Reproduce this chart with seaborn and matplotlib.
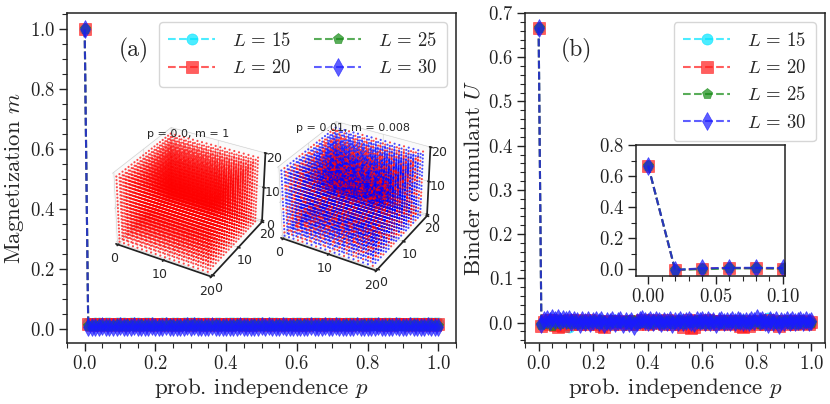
import numpy as np
import matplotlib
matplotlib.use("Agg")
import matplotlib.pyplot as plt
import seaborn as sns
from matplotlib.ticker import MultipleLocator, FormatStrFormatter

# probabilities of independence
p_values = np.linspace(0, 1, 101)
p_inset = [0.0, 0.02, 0.04, 0.06, 0.08, 0.10]

# magnetization m vs p
m_L15 = [1.0,
         0.021, 0.019, 0.020, 0.020, 0.019, 0.021, 0.020, 0.019, 0.020, 0.021,
         0.020, 0.019, 0.020, 0.021, 0.020, 0.019, 0.020, 0.020, 0.021, 0.019,
         0.019, 0.020, 0.021, 0.019, 0.020, 0.020, 0.019, 0.021, 0.020, 0.020,
         0.020, 0.021, 0.019, 0.020, 0.020, 0.019, 0.021, 0.020, 0.019, 0.020,
         0.021, 0.020, 0.020, 0.019, 0.021, 0.020, 0.019, 0.020, 0.020, 0.021,
         0.019, 0.020, 0.021, 0.020, 0.019, 0.020, 0.021, 0.019, 0.020, 0.020,
         0.020, 0.019, 0.020, 0.021, 0.020, 0.020, 0.019, 0.020, 0.021, 0.019,
         0.021, 0.020, 0.019, 0.020, 0.020, 0.021, 0.020, 0.019, 0.020, 0.020,
         0.020, 0.021, 0.020, 0.019, 0.020, 0.021, 0.019, 0.020, 0.020, 0.019,
         0.019, 0.020, 0.020, 0.021, 0.019, 0.020, 0.020, 0.021, 0.020, 0.020]
m_L20 = [1.0,
         0.016, 0.015, 0.016, 0.017, 0.015, 0.016, 0.016, 0.015, 0.017, 0.016,
         0.015, 0.016, 0.017, 0.016, 0.015, 0.016, 0.016, 0.017, 0.015, 0.016,
         0.016, 0.017, 0.015, 0.016, 0.016, 0.015, 0.017, 0.016, 0.016, 0.015,
         0.017, 0.016, 0.016, 0.015, 0.016, 0.017, 0.015, 0.016, 0.016, 0.016,
         0.015, 0.016, 0.016, 0.017, 0.015, 0.016, 0.016, 0.015, 0.017, 0.016,
         0.016, 0.015, 0.017, 0.016, 0.016, 0.015, 0.016, 0.017, 0.016, 0.015,
         0.016, 0.016, 0.015, 0.017, 0.016, 0.016, 0.015, 0.016, 0.016, 0.017,
         0.015, 0.017, 0.016, 0.016, 0.015, 0.016, 0.017, 0.016, 0.015, 0.016,
         0.016, 0.016, 0.017, 0.015, 0.016, 0.016, 0.015, 0.017, 0.016, 0.016,
         0.017, 0.015, 0.016, 0.016, 0.017, 0.015, 0.016, 0.016, 0.015, 0.016]
m_L25 = [1.0,
         0.012, 0.011, 0.012, 0.013, 0.012, 0.011, 0.012, 0.012, 0.013, 0.011,
         0.012, 0.013, 0.011, 0.012, 0.012, 0.013, 0.011, 0.012, 0.012, 0.012,
         0.011, 0.012, 0.012, 0.013, 0.011, 0.012, 0.012, 0.011, 0.013, 0.012,
         0.013, 0.012, 0.011, 0.012, 0.012, 0.012, 0.013, 0.011, 0.012, 0.012,
         0.012, 0.011, 0.013, 0.012, 0.012, 0.011, 0.012, 0.013, 0.012, 0.011,
         0.012, 0.012, 0.012, 0.011, 0.013, 0.012, 0.011, 0.012, 0.012, 0.013,
         0.011, 0.013, 0.012, 0.012, 0.011, 0.012, 0.013, 0.012, 0.012, 0.011,
         0.012, 0.012, 0.011, 0.013, 0.012, 0.012, 0.011, 0.012, 0.013, 0.012,
         0.013, 0.011, 0.012, 0.012, 0.012, 0.013, 0.012, 0.011, 0.012, 0.012,
         0.012, 0.012, 0.013, 0.011, 0.012, 0.012, 0.012, 0.013, 0.011, 0.012]
m_L30 = [1.0,
         0.009, 0.008, 0.009, 0.009, 0.010, 0.008, 0.009, 0.009, 0.008, 0.010,
         0.009, 0.009, 0.008, 0.010, 0.009, 0.009, 0.008, 0.009, 0.010, 0.009,
         0.008, 0.009, 0.010, 0.009, 0.009, 0.008, 0.009, 0.009, 0.010, 0.008,
         0.010, 0.009, 0.009, 0.008, 0.009, 0.010, 0.009, 0.008, 0.009, 0.009,
         0.009, 0.008, 0.009, 0.010, 0.009, 0.009, 0.008, 0.009, 0.009, 0.010,
         0.009, 0.010, 0.008, 0.009, 0.009, 0.010, 0.009, 0.008, 0.009, 0.009,
         0.008, 0.009, 0.009, 0.010, 0.008, 0.009, 0.009, 0.010, 0.009, 0.008,
         0.010, 0.009, 0.008, 0.009, 0.009, 0.009, 0.010, 0.009, 0.008, 0.009,
         0.009, 0.009, 0.010, 0.008, 0.009, 0.009, 0.008, 0.010, 0.009, 0.009,
         0.008, 0.010, 0.009, 0.009, 0.008, 0.009, 0.010, 0.009, 0.009, 0.008]

# Binder cumulant U vs p
U_L15 = [0.667,
         -0.004, 0.003, 0.006, -0.002, 0.008, 0.004, -0.003, 0.005, 0.002, -0.001,
         -0.010, 0.004, 0.006, -0.003, 0.002, 0.005, -0.002, 0.003, 0.007, 0.001,
         -0.004, 0.002, 0.006, -0.002, 0.004, 0.001, -0.003, 0.005, 0.003, 0.000,
         0.002, -0.004, 0.003, 0.006, -0.002, 0.001, 0.004, -0.001, 0.005, 0.002,
         0.003, -0.002, 0.004, 0.001, 0.006, -0.003, 0.002, 0.004, -0.001, 0.003,
         0.001, 0.005, -0.002, 0.003, 0.000, 0.004, -0.004, 0.002, 0.006, -0.001,
         0.003, -0.003, 0.002, 0.005, 0.001, -0.002, 0.004, 0.000, -0.003, 0.002,
         0.004, 0.001, -0.002, 0.003, 0.006, -0.001, 0.002, -0.004, 0.003, 0.001,
         -0.002, 0.003, 0.005, 0.010, 0.002, -0.003, 0.004, 0.001, -0.001, 0.003,
         0.002, -0.002, 0.004, 0.001, -0.003, 0.003, 0.000, 0.002, -0.002, 0.001]
U_L20 = [0.667,
         -0.008, 0.002, 0.005, -0.003, 0.006, -0.006, -0.010, 0.004, -0.008, 0.003,
         0.005, -0.004, 0.002, 0.006, -0.002, 0.004, 0.001, -0.003, 0.005, 0.002,
         -0.004, 0.003, -0.008, -0.009, 0.002, 0.004, -0.002, 0.003, 0.001, -0.003,
         0.002, 0.004, -0.002, 0.001, 0.003, -0.004, 0.002, 0.005, 0.001, -0.002,
         0.003, 0.006, -0.001, 0.004, 0.002, -0.003, 0.005, 0.001, -0.002, 0.003,
         0.001, -0.004, -0.010, 0.002, 0.005, -0.012, -0.009, 0.003, -0.002, 0.004,
         0.002, 0.005, -0.003, 0.001, 0.004, -0.002, 0.003, 0.000, 0.004, -0.002,
         0.003, -0.001, 0.004, -0.008, -0.009, 0.002, -0.007, 0.004, 0.001, -0.003,
         0.004, 0.002, -0.003, 0.005, 0.001, -0.002, 0.003, -0.007, 0.002, 0.004,
         -0.002, 0.003, 0.001, -0.003, 0.004, 0.002, -0.001, 0.003, -0.002, 0.001]
U_L25 = [0.667,
         -0.006, -0.003, 0.002, 0.004, -0.007, 0.001, 0.003, -0.002, 0.004, 0.001,
         -0.003, 0.002, 0.004, -0.002, 0.001, 0.003, -0.004, 0.002, 0.000, 0.003,
         0.001, -0.002, 0.003, 0.001, -0.003, 0.002, 0.004, -0.001, 0.002, 0.000,
         0.002, 0.003, -0.002, 0.001, 0.004, -0.003, 0.002, 0.000, 0.003, 0.001,
         -0.002, 0.003, 0.001, 0.004, -0.002, 0.002, 0.000, 0.003, -0.003, 0.002,
         0.001, 0.004, -0.002, 0.002, 0.003, -0.001, 0.001, 0.004, -0.002, 0.002,
         0.003, -0.002, 0.001, 0.004, 0.000, 0.002, -0.003, 0.003, 0.001, -0.001,
         0.002, 0.004, -0.002, 0.001, 0.003, 0.000, -0.003, 0.002, 0.004, 0.001,
         -0.002, 0.003, 0.001, -0.001, 0.004, 0.002, -0.002, 0.003, 0.000, 0.002,
         0.003, -0.002, 0.002, 0.001, -0.003, 0.003, 0.001, -0.001, 0.002, 0.000]
U_L30 = [0.667,
         -0.004, 0.005, 0.008, 0.004, 0.011, 0.006, 0.010, 0.003, 0.009, 0.005,
         0.008, 0.002, 0.006, 0.004, -0.002, 0.007, 0.002, 0.005, -0.001, 0.004,
         0.006, 0.001, 0.005, -0.002, 0.004, 0.002, 0.006, -0.001, 0.003, 0.005,
         -0.002, 0.003, 0.000, 0.004, -0.008, 0.002, 0.006, 0.009, 0.004, 0.001,
         0.005, 0.002, 0.006, 0.003, -0.001, 0.004, 0.002, 0.005, -0.002, 0.004,
         0.002, 0.006, 0.001, 0.004, 0.007, 0.002, -0.001, 0.005, 0.003, 0.006,
         0.002, 0.005, 0.001, 0.004, -0.002, 0.003, 0.006, 0.002, 0.004, 0.001,
         0.005, 0.002, 0.006, 0.003, 0.001, 0.004, 0.002, 0.006, 0.003, 0.011,
         0.004, 0.007, 0.002, -0.003, 0.005, 0.001, 0.006, -0.006, 0.004, 0.002,
         0.005, 0.001, 0.006, 0.002, 0.004, 0.007, 0.002, 0.005, 0.001, 0.003]

# zoom of U near p = 0
U_in_L15 = [0.667, -0.006, 0.002, 0.006, 0.004, 0.005]
U_in_L20 = [0.667, -0.008, 0.003, 0.007, 0.004, 0.003]
U_in_L25 = [0.667, -0.004, -0.002, 0.004, 0.006, 0.002]
U_in_L30 = [0.667, -0.005, 0.004, 0.008, 0.008, 0.006]

# one 20x20 spin layer for the p = 0.01 snapshot (1 = up/red, 0 = down/blue)
spin_layer = [
    "00101100010011000100",
    "01100100001101001100",
    "00010011000100110001",
    "10001100100001100110",
    "11000101001000010010",
    "01001000110100001001",
    "00110010010011000100",
    "10010001100100100011",
    "01100100001001010001",
    "00011010010110001000",
    "10000101100000110100",
    "01101000010010001011",
    "00100110001001100010",
    "11010001000110010000",
    "00001100110001001101",
    "01100010001100100010",
    "10011000100010011000",
    "00100101010001000110",
    "01010010001100101001",
    "10001001100010010100",
]

series = [(r"$L\,=\,15$", "#00e5ff", "o", 8),
          (r"$L\,=\,20$", "#ff1a1a", "s", 8),
          (r"$L\,=\,25$", "#138a13", "p", 8),
          (r"$L\,=\,30$", "#1a1aff", "d", 9)]

sns.set_theme(style="ticks")
plt.rcParams["font.family"] = ["cmr10", "DejaVu Serif"]
plt.rcParams["mathtext.fontset"] = "cm"
plt.rcParams["axes.formatter.use_mathtext"] = True
plt.rcParams["axes.edgecolor"] = "#222222"


def draw_lines(ax, x, ys):
    for (lab, col, mk, ms), y in zip(series, ys):
        sns.lineplot(x=x, y=y, ax=ax, color=col, marker=mk, markersize=ms,
                     linestyle="--", linewidth=1.5, mec=col, mew=0.5,
                     alpha=0.7, label=lab)


def style_ax(ax, size=13.5):
    ax.tick_params(which="major", direction="out", length=6, width=1,
                   labelsize=size, colors="#222222", pad=2.5)
    ax.tick_params(which="minor", direction="out", length=3.5, width=0.8)
    for s in ax.spines.values():
        s.set_linewidth(1.1)


fig = plt.figure(figsize=(8.30, 4.04), dpi=100)

# ---- panel (a)
ax_a = fig.add_axes([67 / 830, 61 / 404, 389 / 830, 330 / 404])
draw_lines(ax_a, p_values, [m_L15, m_L20, m_L25, m_L30])
ax_a.set_ylim(-0.046, 1.055)
ax_a.xaxis.set_major_locator(MultipleLocator(0.2))
ax_a.xaxis.set_minor_locator(MultipleLocator(0.05))
ax_a.yaxis.set_major_locator(MultipleLocator(0.2))
ax_a.yaxis.set_minor_locator(MultipleLocator(0.05))
ax_a.set_xlabel("prob. independence $p$", fontsize=16.5, labelpad=2)
ax_a.set_ylabel("Magnetization $m$", fontsize=16.5, labelpad=3)
style_ax(ax_a)
ax_a.legend(ncol=2, loc="upper right", fontsize=13.5, handlelength=2.5,
            columnspacing=1.2, borderpad=0.5, labelspacing=0.5,
            handletextpad=0.9, fancybox=True, framealpha=0.8)
ax_a.text(0.171, 0.885, "(a)", transform=ax_a.transAxes, fontsize=17,
          ha="center", va="center")

# ---- panel (b)
ax_b = fig.add_axes([525 / 830, 61 / 404, 300 / 830, 330 / 404])
draw_lines(ax_b, p_values, [U_L15, U_L20, U_L25, U_L30])
ax_b.set_ylim(-0.046, 0.7)
ax_b.xaxis.set_major_locator(MultipleLocator(0.2))
ax_b.xaxis.set_minor_locator(MultipleLocator(0.05))
ax_b.yaxis.set_major_locator(MultipleLocator(0.1))
ax_b.yaxis.set_minor_locator(MultipleLocator(0.02))
ax_b.set_xlabel("prob. independence $p$", fontsize=16.5, labelpad=2)
ax_b.set_ylabel("Binder cumulant $U$", fontsize=16.5, labelpad=3)
style_ax(ax_b)
ax_b.legend(ncol=1, loc="upper right", fontsize=13.5, handlelength=2.5,
            borderpad=0.5, labelspacing=0.5, handletextpad=0.9,
            fancybox=True, framealpha=0.8)
ax_b.text(0.173, 0.885, "(b)", transform=ax_b.transAxes, fontsize=17,
          ha="center", va="center")

# inset of (b)
ax_in = fig.add_axes([636 / 830, 128 / 404, 149 / 830, 131 / 404])
draw_lines(ax_in, p_inset, [U_in_L15, U_in_L20, U_in_L25, U_in_L30])
ax_in.get_legend().remove()
ax_in.set_xlim(-0.009, 0.1015)
ax_in.set_ylim(-0.045, 0.8)
ax_in.xaxis.set_major_locator(MultipleLocator(0.05))
ax_in.xaxis.set_minor_locator(MultipleLocator(0.01))
ax_in.yaxis.set_major_locator(MultipleLocator(0.2))
ax_in.yaxis.set_minor_locator(MultipleLocator(0.1))
ax_in.xaxis.set_major_formatter(FormatStrFormatter("%.2f"))
style_ax(ax_in, size=13.5)

# ---- 3D spin snapshots inside (a)
L = 20
idx = np.arange(L)
X, Y, Z = np.meshgrid(idx, idx, idx, indexing="ij")
layer = np.array([[int(ch) for ch in row] for row in spin_layer])
spins_mixed = np.stack([np.roll(layer, (3 * k, 7 * k), axis=(0, 1))
                        for k in range(L)], axis=2)
spins_up = np.ones((L, L, L), dtype=int)

snapshots = [("p = 0.0, m = 1", spins_up, [103, 110, 170, 182]),
             ("p = 0.01, m = 0.008", spins_mixed, [268, 104, 170, 182])]
for title, spins, (x0, y0, w, h) in snapshots:
    ax3 = fig.add_axes([x0 / 830, (404 - y0 - h) / 404, w / 830, h / 404],
                       projection="3d")
    ax3.set_facecolor("none")
    cols = np.where(spins.ravel() == 1, "#ff0000", "#0000ff")
    ax3.scatter(X.ravel(), Y.ravel(), Z.ravel(), c=cols, s=2.4,
                alpha=0.7, linewidths=0)
    ax3.set_xlim(-0.5, 20)
    ax3.set_ylim(-0.5, 20)
    ax3.set_zlim(-0.5, 20)
    ax3.view_init(elev=32, azim=-60)
    for axis in (ax3.xaxis, ax3.yaxis, ax3.zaxis):
        axis.set_ticks([0, 10, 20])
        axis._axinfo["grid"]["linewidth"] = 0.4
        axis.set_pane_color((0.97, 0.97, 0.97, 0.6))
    ax3.tick_params(labelsize=9, pad=-4, labelfontfamily="DejaVu Sans")
    ax3.set_title(title, fontsize=8, family="DejaVu Sans", y=0.9)

fig.savefig("out.png", dpi=100)
